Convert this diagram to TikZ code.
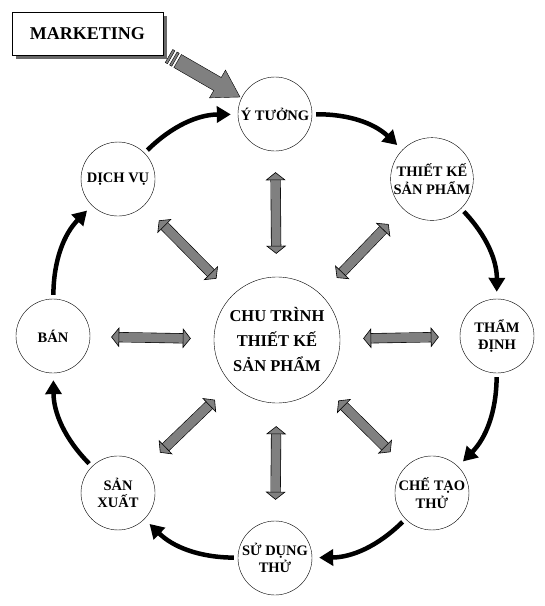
\documentclass[tikz,border=0pt]{standalone}
\usepackage{fontspec}
\setmainfont{Liberation Serif}
\usetikzlibrary{arrows.meta,shadows}
\definecolor{arrowgray}{RGB}{128,128,128}
\definecolor{shadowgray}{RGB}{105,105,105}

\begin{document}
\begin{tikzpicture}[x=1pt, y=1pt,
  every node/.style={font=\bfseries\fontsize{14.5}{17.5}\selectfont, align=center},
  stage/.style={circle, draw, thin, minimum size=74pt, inner sep=0pt},
  ringarrow/.style={line width=4.5pt, -{Triangle[length=14pt,width=16pt]}, shorten <=4pt, shorten >=7pt},
  twohead/.style={line width=0.6pt, double=arrowgray, double distance=9pt, shorten <=23pt, shorten >=21pt,
    {Triangle[length=8pt,width=20pt,fill=arrowgray,line width=0.6pt]}-{Triangle[length=8pt,width=20pt,fill=arrowgray,line width=0.6pt]}}]
\useasboundingbox (-275,-270) rectangle (270,336);
\node[draw, thick, fill=white, minimum width=151pt, minimum height=43pt, font=\bfseries\fontsize{18}{20}\selectfont,
  drop shadow={shadow xshift=4pt, shadow yshift=-4pt, fill=shadowgray, opacity=1}] (mkt) at (-187.5,302.5) {MARKETING};
\node[circle, draw, thin, minimum size=126pt, inner sep=0pt, font=\bfseries\fontsize{16.5}{25}\selectfont] (core) at (2,-4) {CHU TRÌNH\\THIẾT KẾ\\SẢN PHẨM};
\foreach \ang/\nm/\txt in {90/idea/{Ý TƯỞNG}, 45/design/{THIẾT KẾ\\SẢN PHẨM}, 0/review/{THẨM\\ĐỊNH},
  -45/proto/{CHẾ TẠO\\THỬ}, -90/trial/{SỬ DỤNG\\THỬ}, -135/making/{SẢN\\XUẤT}, 180/sales/{BÁN}, 135/service/{DỊCH VỤ}} {
  \node[stage] (\nm) at (\ang:222) {\txt};
  \draw[twohead] (core) -- (\nm);
}
\foreach \a/\b in {idea/design, design/review, review/proto, proto/trial, trial/making, making/sales, sales/service, service/idea}
  \draw[ringarrow] (\a) to[bend left=22] (\b);
\coordinate (mtail) at (-106,280);
\begin{scope}[shift={(mtail)}, rotate=-30, draw=black, fill=arrowgray, thin]
  \filldraw (0,-7.5) rectangle (2.5,7.5);
  \filldraw (5,-7.5) rectangle (7.5,7.5);
  \filldraw (10,-7.5) -- (56,-7.5) -- (56,-16) -- (82,0) -- (56,16) -- (56,7.5) -- (10,7.5) -- cycle;
\end{scope}
\end{tikzpicture}
\end{document}
